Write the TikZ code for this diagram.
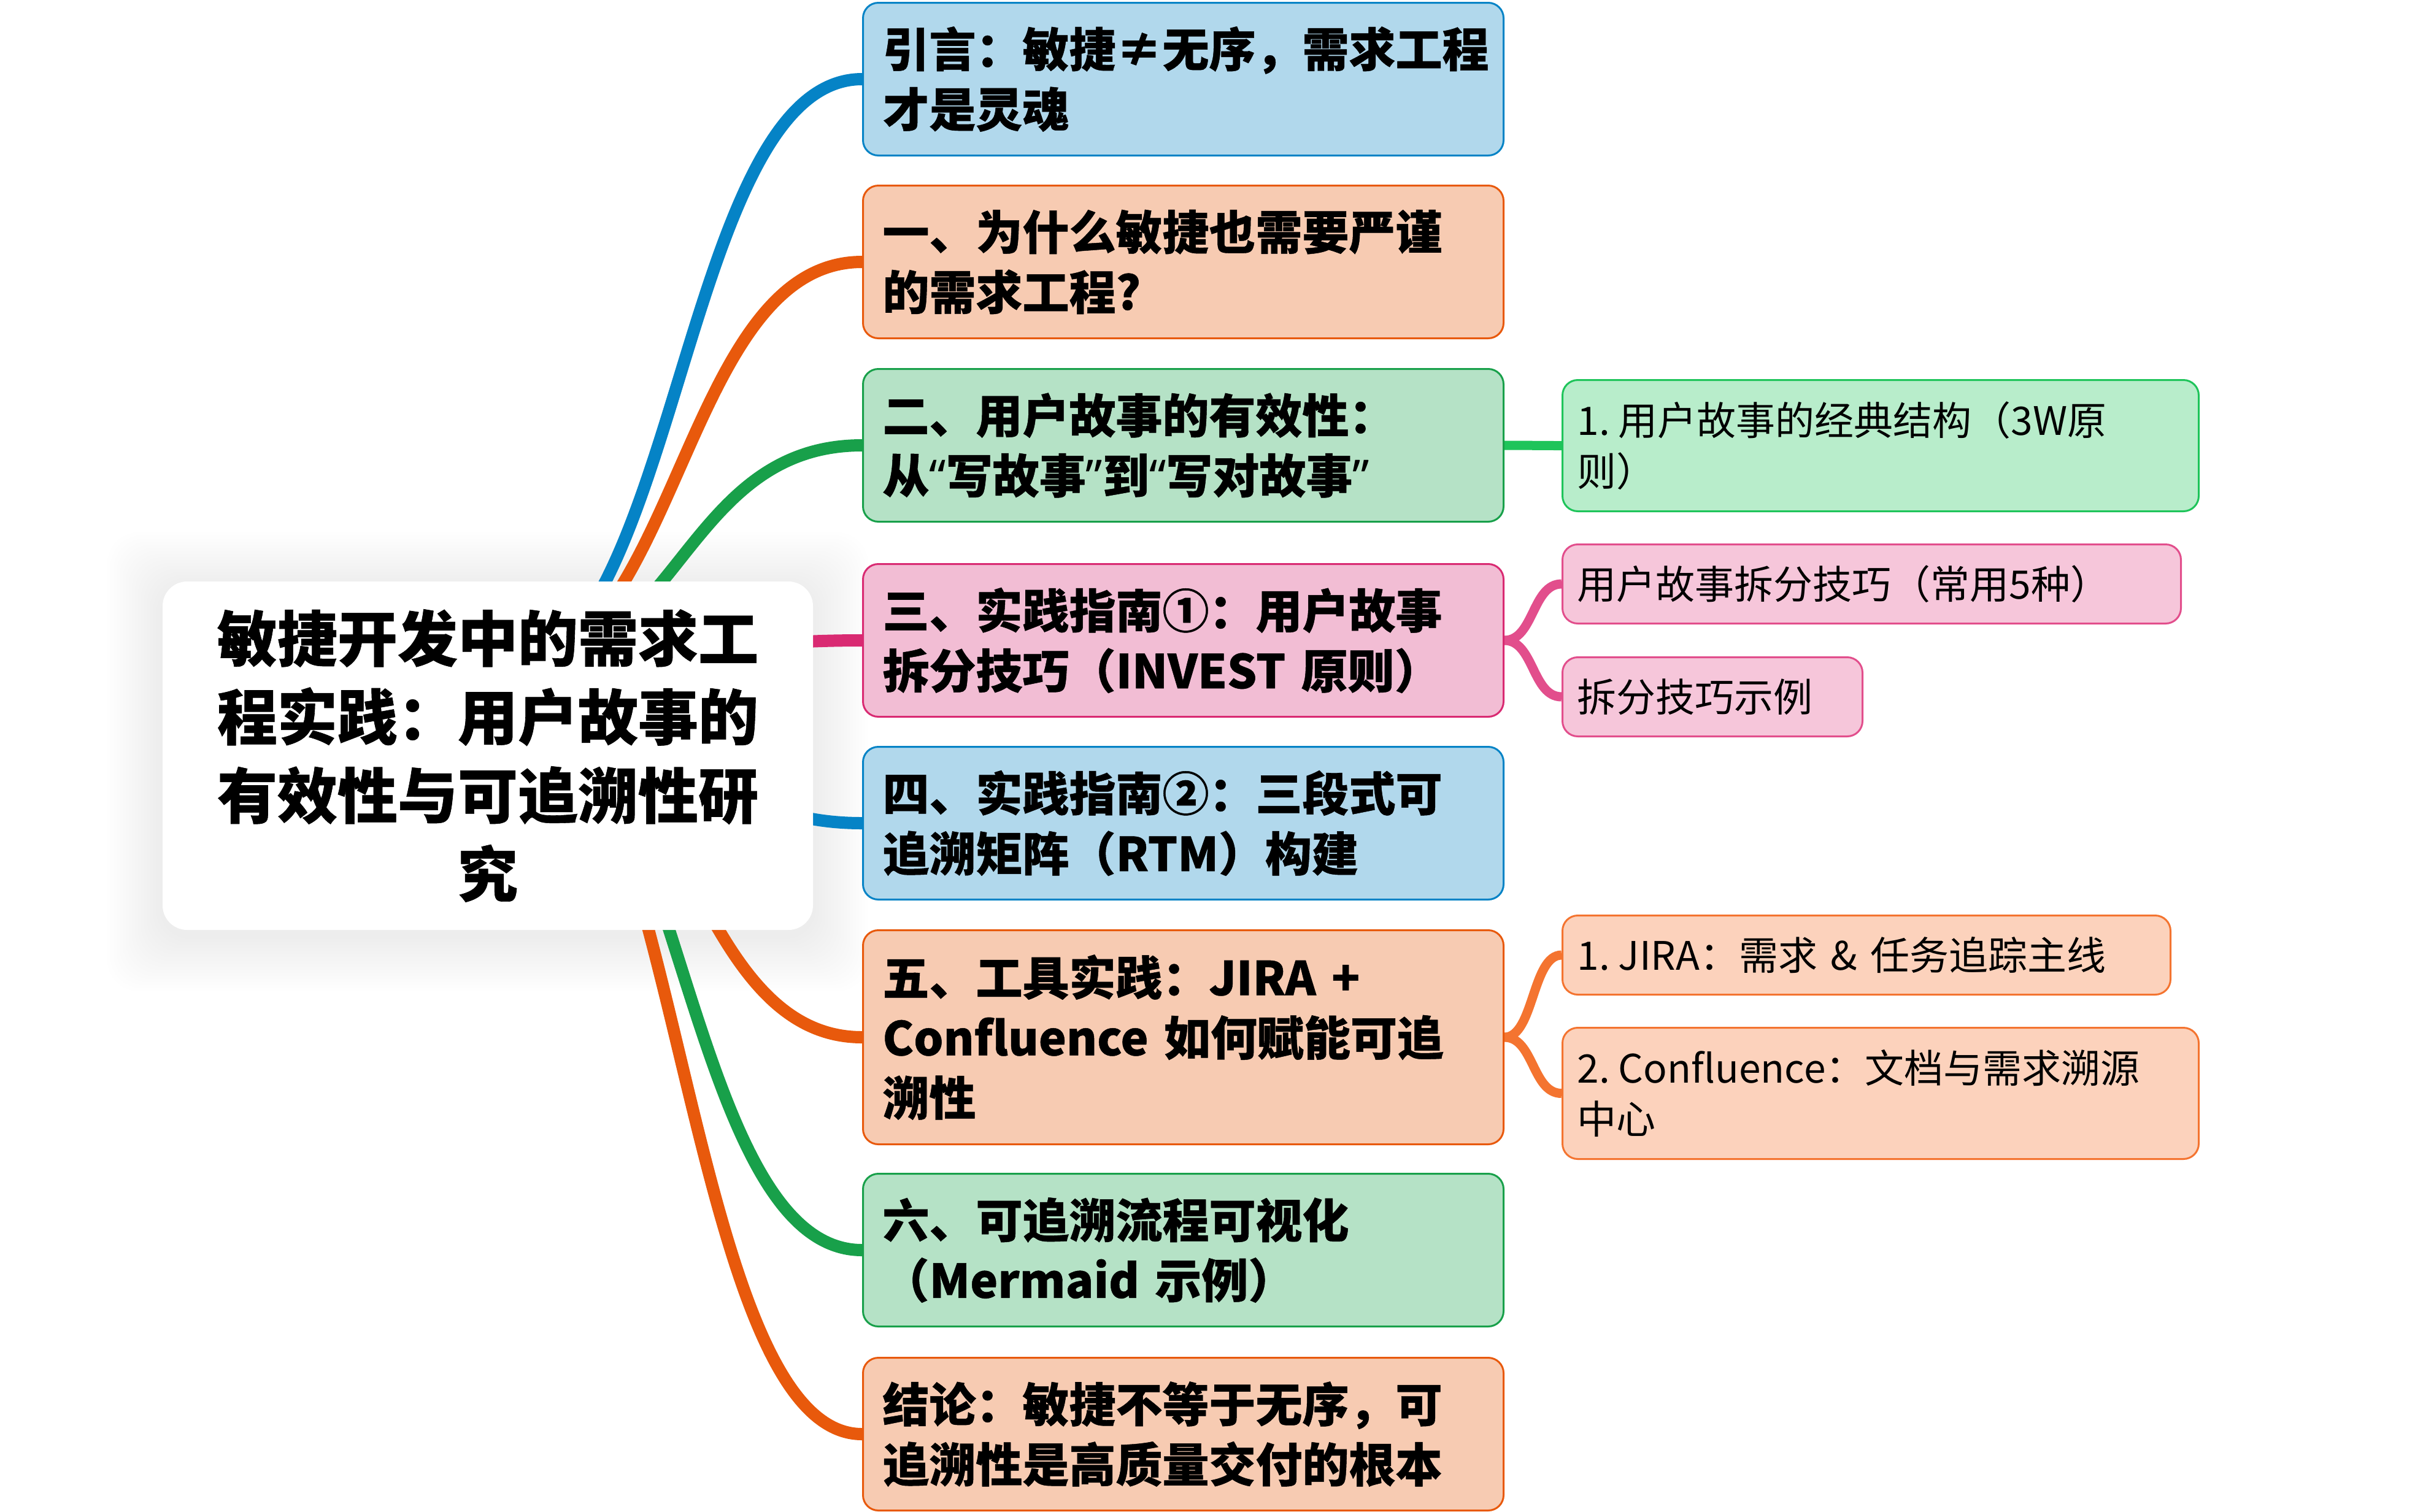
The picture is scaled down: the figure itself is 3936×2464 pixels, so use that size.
\documentclass[tikz,border=0pt]{standalone}
\usepackage{fontspec}
\setmainfont{Noto Sans CJK SC}[BoldFeatures={FakeBold=0.6}]
\newfontfamily\qfont{Noto Sans}[BoldFeatures={FakeBold=0.6}]
\usetikzlibrary{calc}
\pgfdeclarelayer{shd}
\pgfdeclarelayer{links}
\pgfsetlayers{shd,links,main}
\definecolor{blueL}{HTML}{0583C6}
\definecolor{blueF}{HTML}{B1D8EC}
\definecolor{oraL}{HTML}{E8590C}
\definecolor{oraF}{HTML}{F7CBB2}
\definecolor{grnL}{HTML}{18A04A}
\definecolor{grnF}{HTML}{B5E2C6}
\definecolor{pnkL}{HTML}{D92A72}
\definecolor{pnkF}{HTML}{F2BDD4}
\definecolor{gtwoL}{HTML}{1EC45A}
\definecolor{gtwoF}{HTML}{B8EDCB}
\definecolor{ptwoL}{HTML}{E24E8C}
\definecolor{ptwoF}{HTML}{F6C6DA}
\definecolor{otwoL}{HTML}{F47430}
\definecolor{otwoF}{HTML}{FCD2BC}
\newcommand\rootfont{\bfseries\fontsize{49pt}{64pt}\selectfont}
\newcommand\lonefont{\bfseries\fontsize{38pt}{49pt}\selectfont}
\newcommand\ltwofont{\fontsize{32pt}{41.5pt}\selectfont}
\newcommand\myoq{{\qfont\bfseries “}}
\newcommand\mycq{{\qfont\bfseries ”}}
\newcommand\nsp{\hspace{0.22em}}
\begin{document}
\begin{tikzpicture}[x=0.5pt,y=-0.5pt,
  lone/.style={draw, line width=1.5pt, rounded corners=12.5pt, anchor=north west,
    minimum width=522pt, minimum height=124.5pt, text width=490pt,
    inner xsep=16pt, inner ysep=0pt, align=left, font=\lonefont},
  ltwo/.style={draw, line width=1.5pt, rounded corners=12.5pt, anchor=north west,
    minimum height=64.5pt, inner xsep=12pt, inner ysep=0pt, align=left, font=\ltwofont},
  linkone/.style={line width=10pt},
  linktwo/.style={line width=7.5pt},
  curveone/.style={out=0, in=180, out distance=148.75pt, in distance=148.75pt},
  curvetwo/.style={out=0, in=180, out distance=24pt, in distance=24pt}
]
\useasboundingbox (0,0) rectangle (3936,2464);

% root
\node[fill=white, rounded corners=20pt, minimum width=530pt, minimum height=284pt,
      inner sep=0pt, align=center, font=\rootfont] (root) at (795,1232)
  {敏捷开发中的需求工\\程实践：用户故事的\\有效性与可追溯性研\\究};

% level 1
\node[lone, fill=blueF, draw=blueL] (b0) at (1405,3)
  {引言：敏捷≠无序，需求工程\\才是灵魂};
\node[lone, fill=oraF, draw=oraL] (b1) at (1405,301)
  {一、为什么敏捷也需要严谨\\的需求工程?};
\node[lone, fill=grnF, draw=grnL] (b2) at (1405,600)
  {二、用户故事的有效性：\\从\myoq 写故事\mycq 到\myoq 写对故事\mycq};
\node[lone, fill=pnkF, draw=pnkL] (b3) at (1405,918)
  {三、实践指南①：用户故事\\拆分技巧（INVEST 原则）};
\node[lone, fill=blueF, draw=blueL] (b4) at (1405,1216)
  {四、实践指南②：三段式可\\追溯矩阵（RTM）构建};
\node[lone, fill=oraF, draw=oraL, minimum height=174.5pt] (b5) at (1405,1515)
  {五、工具实践：JIRA +\\Confluence 如何赋能可追\\溯性};
\node[lone, fill=grnF, draw=grnL] (b6) at (1405,1912)
  {六、可追溯流程可视化\\（Mermaid 示例）};
\node[lone, fill=oraF, draw=oraL] (b7) at (1405,2212)
  {结论：敏捷不等于无序，可\\追溯性是高质量交付的根本};

% level 2
\node[ltwo, fill=gtwoF, draw=gtwoL, minimum width=518.5pt, text width=494.5pt,
      minimum height=107pt] (c2) at (2545,618)
  {1.\nsp 用户故事的经典结构（3W原\\则）};
\node[ltwo, fill=ptwoF, draw=ptwoL, minimum width=504pt, text width=480pt] (c3a) at (2545,886)
  {用户故事拆分技巧（常用5种）};
\node[ltwo, fill=ptwoF, draw=ptwoL, minimum width=244.5pt, text width=220.5pt] (c3b) at (2545,1070)
  {拆分技巧示例};
\node[ltwo, fill=otwoF, draw=otwoL, minimum width=495.5pt, text width=471.5pt] (c5a) at (2545,1491)
  {1.\nsp JIRA：需求 \& 任务追踪主线};
\node[ltwo, fill=otwoF, draw=otwoL, minimum width=518.5pt, text width=494.5pt,
      minimum height=107pt] (c5b) at (2545,1674)
  {2.\nsp Confluence：文档与需求溯源\\中心};

% links
\begin{pgfonlayer}{links}
\coordinate (src) at (810,1100);
\draw[linkone, blueL] (src) to[curveone] (b0.west);
\draw[linkone, oraL]  (src) to[curveone] (b1.west);
\draw[linkone, grnL]  (src) to[curveone] (b2.west);
\draw[linkone, pnkL]  (src) to[curveone] (b3.west);
\draw[linkone, blueL] (src) to[curveone] (b4.west);
\draw[linkone, oraL]  (src) to[curveone] (b5.west);
\draw[linkone, grnL]  (src) to[curveone] (b6.west);
\draw[linkone, oraL]  (src) to[curveone] (b7.west);
\draw[linktwo, gtwoL] (b2.east) to[curvetwo] (c2.west);
\draw[linktwo, ptwoL] (b3.east) to[curvetwo] (c3a.west);
\draw[linktwo, ptwoL] (b3.east) to[curvetwo] (c3b.west);
\draw[linktwo, otwoL] (b5.east) to[curvetwo] (c5a.west);
\draw[linktwo, otwoL] (b5.east) to[curvetwo] (c5b.west);
\end{pgfonlayer}

% background and shadow
\begin{pgfonlayer}{shd}
\fill[white] (0,0) rectangle (3936,2464);
\foreach \r in {5,10,...,90} {
  \fill[black, opacity=0.0025, rounded corners=26pt]
    ([shift={(-\r,-\r+10)}]root.north west) rectangle ([shift={(\r,\r+10)}]root.south east);
}
\end{pgfonlayer}
\end{tikzpicture}
\end{document}
